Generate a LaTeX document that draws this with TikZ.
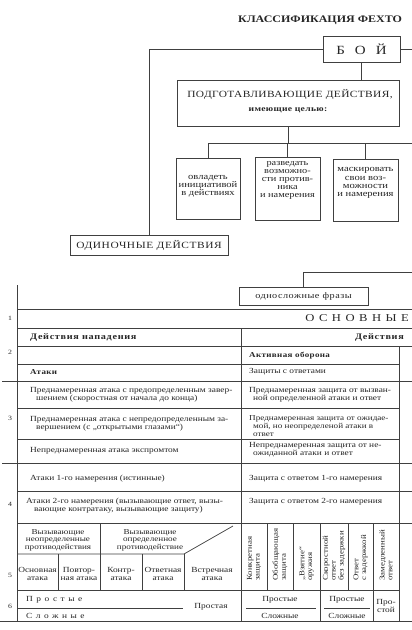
\documentclass[tikz,border=0pt]{standalone}
\usepackage{fontspec}
\setmainfont{Liberation Serif}[FakeStretch=1.2]
\begin{document}
\begin{tikzpicture}[x=1pt,y=-1pt,
  ln/.style={draw=black!75,line width=0.7pt},
  bx/.style={draw=black!75,line width=0.7pt,inner sep=0pt},
  tx/.style={inner sep=0pt,text=black!85,font=\fontsize{7.8}{8}\selectfont},
  tl/.style={tx,anchor=west,align=left},
  ct/.style={tx,align=center},
  bt/.style={inner sep=0pt,text=black!85,align=center,font=\fontsize{8.8}{8.2}\selectfont},
  num/.style={inner sep=0pt,text=black!85,font=\fontsize{6.5}{7}\selectfont},
  rt/.style={tx,rotate=90,anchor=west,align=left,font=\fontsize{7.4}{7.8}\selectfont},
]
\useasboundingbox (0,0) rectangle (412,630);
\fill[white] (0,0) rectangle (412,630);

% ---- upper tree ----
\node[inner sep=0pt,text=black!85,font=\bfseries\fontsize{10}{12}\selectfont] (title) at (320,20) {КЛАССИФИКАЦИЯ ФЕХТО};
\node[bx,minimum width=77pt,minimum height=26pt,text=black!85,font=\fontsize{12.5}{14}\selectfont] (boi) at (361.5,49) {Б\hspace{10pt}О\hspace{10pt}Й};
\node[bx,minimum width=222pt,minimum height=46pt] (podg) at (288,103) {};
\node[inner sep=0pt,text=black!85,font=\fontsize{9.5}{11}\selectfont] (podgA) at (290,94) {\addfontfeature{LetterSpace=4}ПОДГОТАВЛИВАЮЩИЕ ДЕЙСТВИЯ,};
\node[inner sep=0pt,text=black!85,font=\bfseries\fontsize{8}{9}\selectfont] (podgB) at (288,110) {\addfontfeature{LetterSpace=4}имеющие целью:};

\node[bx,minimum width=64pt,minimum height=61pt] (g1) at (208,188.5) {};
\node[bt] (g1t) at (208,186) {овладеть\\инициативой\\в действиях};
\node[bx,minimum width=65pt,minimum height=63pt] (g2) at (287.5,188.5) {};
\node[bt,font=\fontsize{8.6}{7.9}\selectfont] (g2t) at (287.5,180.5) {разведать\\возможно-\\сти против-\\ника\\и намерения};
\node[bx,minimum width=65pt,minimum height=62pt] (g3) at (365.5,190) {};
\node[bt] (g3t) at (365.5,183) {маскировать\\свои воз-\\можности\\и намерения};

\node[bx,minimum width=158pt,minimum height=20pt,text=black!85,font=\fontsize{9.5}{11}\selectfont] (odin) at (149,245.5) {\addfontfeature{LetterSpace=6}ОДИНОЧНЫЕ ДЕЙСТВИЯ};
\node[bx,minimum width=129pt,minimum height=18pt,text=black!85,font=\fontsize{8.5}{10}\selectfont] (odno) at (303.5,296) {\addfontfeature{LetterSpace=6}односложные фразы};

\coordinate (bR) at (412,49);
\coordinate (hR) at (412,143);
\coordinate (oR) at (412,272);
\draw[ln] (boi.west) -| (odin.north);
\draw[ln] (boi.east) -- (bR);
\draw[ln] (boi.south) -- (boi.south |- podg.north);
\draw[ln] (podg.south) -- (podg.south |- hR);
\draw[ln] (g1.north) |- (hR);
\draw[ln] (g2.north) -- (g2.north |- hR);
\draw[ln] (g3.north) -- (g3.north |- hR);
\draw[ln] (odno.north) |- (oR);

% ---- table lines ----
\draw[ln] (17,285) -- (17,621);
\draw[ln] (17,309) -- (412,309);
\draw[ln] (17,328) -- (412,328);
\draw[ln] (241,328) -- (241,621);
\draw[ln] (17,346) -- (412,346);
\draw[ln] (17,364) -- (399,364);
\draw[ln] (399,346) -- (399,621);
\draw[ln] (2,381) -- (412,381);
\draw[ln] (17,408) -- (399,408);
\draw[ln] (17,439) -- (399,439);
\draw[ln] (2,463) -- (412,463);
\draw[ln] (17,491) -- (412,491);
\draw[ln] (17,523) -- (412,523);
\draw[ln] (100,523) -- (100,554);
\draw[ln] (17,554) -- (184,554) -- (233,526);
\foreach \xx in {58,100,142,184} \draw[ln] (\xx,554) -- (\xx,590);
\draw[ln] (17,590) -- (399,590);
\foreach \xx in {267,293,348} \draw[ln] (\xx,523) -- (\xx,590);
\foreach \xx in {320,373} \draw[ln] (\xx,523) -- (\xx,621);
\draw[ln] (17,608) -- (183,608);
\draw[ln] (246,608) -- (316,608);
\draw[ln] (324,608) -- (370,608);
\draw[ln] (0,621) -- (412,621);

% ---- row numbers ----
\node[num] (n1) at (10,318) {1};
\node[num] (n2) at (10,352) {2};
\node[num] (n3) at (10,418) {3};
\node[num] (n4) at (10,504) {4};
\node[num] (n5) at (10,575) {5};
\node[num] (n6) at (10,606) {6};

% ---- row 1, 2 ----
\node[tx,anchor=east,font=\fontsize{10.5}{12}\selectfont] (osn) at (409,318) {О\hspace{4.5pt}С\hspace{4.5pt}Н\hspace{4.5pt}О\hspace{4.5pt}В\hspace{4.5pt}Н\hspace{4.5pt}Ы\hspace{4.5pt}Е};
\node[tl,font=\bfseries\fontsize{8.5}{10}\selectfont] (dn) at (30,337) {\addfontfeature{LetterSpace=8}Действия нападения};
\node[tx,anchor=east,font=\bfseries\fontsize{8.5}{10}\selectfont] (dz) at (404,337) {\addfontfeature{LetterSpace=8}Действия};
\node[tl,font=\bfseries\fontsize{7.5}{9}\selectfont] (ao) at (249,356) {\addfontfeature{LetterSpace=5}Активная оборона};
\node[tl,font=\bfseries\fontsize{7.5}{9}\selectfont] (at) at (30,372) {\addfontfeature{LetterSpace=5}Атаки};
\node[tl] (zo) at (249,372) {Защиты с ответами};

% ---- row 3 ----
\node[tl] (a1) at (30,395) {Преднамеренная атака с предопределенным завер-\\\hspace*{6pt}шением (скоростная от начала до конца)};
\node[tl] (a2) at (30,424) {Преднамеренная атака с непредопределенным за-\\\hspace*{6pt}вершением (с „открытыми глазами“)};
\node[tl] (a3) at (30,451) {Непреднамеренная атака экспромтом};
\node[tl] (z1) at (249,395) {Преднамеренная защита от вызван-\\\hspace*{4pt}ной определенной атаки и ответ};
\node[tl,font=\fontsize{7.6}{7.6}\selectfont] (z2) at (249,426) {Преднамеренная защита от ожидае-\\\hspace*{4pt}мой, но неопределеной атаки в\\\hspace*{4pt}ответ};
\node[tl] (z3) at (249,450) {Непреднамеренная защита от не-\\\hspace*{4pt}ожиданной атаки и ответ};

% ---- row 4 ----
\node[tl] (a4) at (30,479) {Атаки 1-го намерения (истинные)};
\node[tl] (a5) at (26,506) {Атаки 2-го намерения (вызывающие ответ, вызы-\\\hspace*{8pt}вающие контратаку, вызывающие защиту)};
\node[tl] (z4) at (249,479) {Защита с ответом 1-го намерения};
\node[tl] (z5) at (249,502) {Защита с ответом 2-го намерения};

% ---- row 5 ----
\node[ct,font=\fontsize{7.6}{7.6}\selectfont] (v1) at (58,540) {Вызывающие\\неопределенные\\противодействия};
\node[ct,font=\fontsize{7.6}{7.6}\selectfont] (v2) at (150,540) {Вызывающие\\определенное\\противодействие};
\node[ct] (c1) at (37.5,574) {Основная\\атака};
\node[ct] (c2) at (79,574) {Повтор-\\ная атака};
\node[ct] (c3) at (121,574) {Контр-\\атака};
\node[ct] (c4) at (163,574) {Ответная\\атака};
\node[ct] (c5) at (212,574) {Встречная\\атака};
\node[rt] (r1) at (254,581) {Конкретная\\защита};
\node[rt] (r2) at (280,581) {Обобщающая\\защита};
\node[rt] (r3) at (306.5,581) {„Взятие“\\оружия};
\node[rt] (r4) at (334,581) {Скоростной\\ответ\\без задержки};
\node[rt] (r5) at (360.5,581) {Ответ\\с задержкой};
\node[rt] (r6) at (386,581) {Замедленный\\ответ};

% ---- row 6 ----
\node[tl] (p1) at (26,600) {\addfontfeature{LetterSpace=45}Простые};
\node[tl] (s1) at (26,616) {\addfontfeature{LetterSpace=45}Сложные};
\node[ct] (p2) at (211,607) {Простая};
\node[ct] (p3) at (280,600) {Простые};
\node[ct] (s3) at (280,616) {Сложные};
\node[ct] (p4) at (347,600) {Простые};
\node[ct] (s4) at (347,616) {Сложные};
\node[ct] (p5) at (386,606) {Про-\\стой};
\end{tikzpicture}
\end{document}
